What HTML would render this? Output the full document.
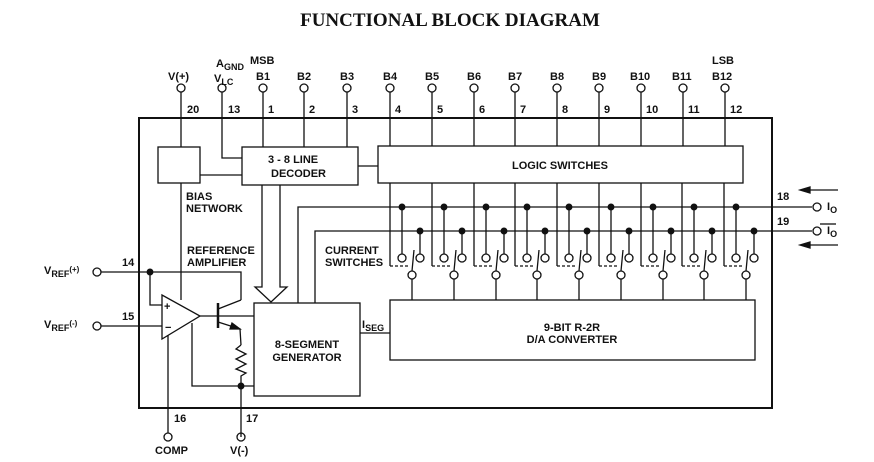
<!DOCTYPE html>
<html><head><meta charset="utf-8"><style>
body{margin:0;background:#fff}
svg{display:block}
text{font-family:"Liberation Sans",sans-serif;font-weight:bold;font-size:11px;fill:#111}
.t{font-family:"Liberation Serif",serif;font-size:19px;font-weight:bold}
</style></head><body>
<svg width="874" height="462" viewBox="0 0 874 462" xmlns="http://www.w3.org/2000/svg" stroke="#111" stroke-width="1.3" fill="none">
<text class="t" x="450" y="26" text-anchor="middle" stroke="none">FUNCTIONAL BLOCK DIAGRAM</text>
<rect x="139" y="118" width="633" height="290" stroke-width="2"/>
<g stroke="none">
<text x="168" y="80">V(+)</text>
<text x="216" y="67">A<tspan font-size="9" dy="3">GND</tspan></text>
<text x="250" y="64">MSB</text>
<text x="214" y="82">V<tspan font-size="9" dy="3">LC</tspan></text>
<text x="256" y="80">B1</text><text x="297" y="80">B2</text><text x="340" y="80">B3</text>
<text x="383" y="80">B4</text><text x="425" y="80">B5</text><text x="467" y="80">B6</text>
<text x="508" y="80">B7</text><text x="550" y="80">B8</text><text x="592" y="80">B9</text>
<text x="630" y="80">B10</text><text x="672" y="80">B11</text>
<text x="712" y="64">LSB</text><text x="712" y="80">B12</text>
<text x="187" y="113">20</text><text x="228" y="113">13</text><text x="268" y="113">1</text>
<text x="309" y="113">2</text><text x="352" y="113">3</text><text x="395" y="113">4</text>
<text x="437" y="113">5</text><text x="479" y="113">6</text><text x="520" y="113">7</text>
<text x="562" y="113">8</text><text x="604" y="113">9</text><text x="646" y="113">10</text>
<text x="688" y="113">11</text><text x="730" y="113">12</text>
<text x="268" y="163">3 - 8 LINE</text><text x="271" y="177">DECODER</text>
<text x="560" y="169" text-anchor="middle">LOGIC SWITCHES</text>
<text x="186" y="200">BIAS</text><text x="186" y="212">NETWORK</text>
<text x="187" y="254">REFERENCE</text><text x="187" y="266">AMPLIFIER</text>
<text x="325" y="254">CURRENT</text><text x="325" y="266">SWITCHES</text>
<text x="572" y="331" text-anchor="middle">9-BIT R-2R</text>
<text x="572" y="343" text-anchor="middle">D/A CONVERTER</text>
<text x="307" y="348" text-anchor="middle">8-SEGMENT</text>
<text x="307" y="361" text-anchor="middle">GENERATOR</text>
<text x="362" y="328">I<tspan font-size="9" dy="3">SEG</tspan></text>
<text x="777" y="200">18</text><text x="777" y="225">19</text>
<text x="827" y="210">I<tspan font-size="9" dy="3">O</tspan></text>
<text x="827" y="234">I<tspan font-size="9" dy="3">O</tspan></text>
<text x="44" y="274">V<tspan font-size="9" dy="3">REF</tspan><tspan font-size="8" dy="-5">(+)</tspan></text>
<text x="44" y="328">V<tspan font-size="9" dy="3">REF</tspan><tspan font-size="8" dy="-5">(-)</tspan></text>
<text x="122" y="266">14</text><text x="122" y="320">15</text>
<text x="174" y="422">16</text><text x="246" y="422">17</text>
<text x="155" y="454">COMP</text><text x="230" y="454">V(-)</text>
</g>
<line x1="820" y1="224" x2="836" y2="224"/>
<g>
<circle cx="181" cy="88" r="4"/><line x1="181" y1="92" x2="181" y2="147"/>
<circle cx="222" cy="88" r="4"/><polyline points="222,92 222,158 242,158"/>
<circle cx="263" cy="88" r="4"/><line x1="263" y1="92" x2="263" y2="147"/>
<circle cx="304" cy="88" r="4"/><line x1="304" y1="92" x2="304" y2="147"/>
<circle cx="347" cy="88" r="4"/><line x1="347" y1="92" x2="347" y2="147"/>
<circle cx="390" cy="88" r="4"/><line x1="390" y1="92" x2="390" y2="146"/>
<circle cx="432" cy="88" r="4"/><line x1="432" y1="92" x2="432" y2="146"/>
<circle cx="474" cy="88" r="4"/><line x1="474" y1="92" x2="474" y2="146"/>
<circle cx="515" cy="88" r="4"/><line x1="515" y1="92" x2="515" y2="146"/>
<circle cx="557" cy="88" r="4"/><line x1="557" y1="92" x2="557" y2="146"/>
<circle cx="599" cy="88" r="4"/><line x1="599" y1="92" x2="599" y2="146"/>
<circle cx="641" cy="88" r="4"/><line x1="641" y1="92" x2="641" y2="146"/>
<circle cx="683" cy="88" r="4"/><line x1="683" y1="92" x2="683" y2="146"/>
<circle cx="725" cy="88" r="4"/><line x1="725" y1="92" x2="725" y2="146"/>
</g>
<rect x="158" y="147" width="42" height="36"/>
<rect x="242" y="147" width="116" height="38"/>
<rect x="378" y="146" width="365" height="37"/>
<line x1="200" y1="175" x2="242" y2="175"/>
<line x1="358" y1="166" x2="378" y2="166"/>
<polyline points="262,185 262,287 255,287 271,302 287,287 280,287 280,185"/>
<polyline points="298,303 298,207 812,207"/>
<polyline points="315,303 315,231 812,231"/>
<circle cx="817" cy="207" r="4"/><circle cx="817" cy="231" r="4"/>
<line x1="802" y1="190" x2="838" y2="190"/><polygon points="800,190 810,187 810,193" fill="#111"/>
<line x1="802" y1="245" x2="838" y2="245"/><polygon points="800,245 810,242 810,248" fill="#111"/>
<g id="sw">
<line x1="390" y1="183" x2="390" y2="266"/>
<line x1="390" y1="266" x2="410" y2="266" stroke-dasharray="3,2"/>
<circle cx="402" cy="207" r="2.8" fill="#111"/><line x1="402" y1="207" x2="402" y2="254"/><circle cx="402" cy="258" r="4"/>
<circle cx="420" cy="231" r="2.8" fill="#111"/><line x1="420" y1="231" x2="420" y2="254"/><circle cx="420" cy="258" r="4"/>
<line x1="412" y1="271" x2="414" y2="250"/>
<circle cx="412" cy="275" r="4"/><line x1="412" y1="279" x2="412" y2="300"/>
</g>
<use href="#sw" x="42"/><use href="#sw" x="84"/><use href="#sw" x="125"/><use href="#sw" x="167"/>
<use href="#sw" x="209"/><use href="#sw" x="251"/><use href="#sw" x="292"/><use href="#sw" x="334"/>
<rect x="390" y="300" width="365" height="60"/>
<rect x="254" y="303" width="106" height="93"/>
<line x1="360" y1="333" x2="390" y2="333"/>
<circle cx="97" cy="272" r="4"/><polyline points="101,272 241,272 241,300"/>
<circle cx="150" cy="272" r="2.8" fill="#111"/><polyline points="150,272 150,305 162,305"/>
<circle cx="97" cy="326" r="4"/><line x1="101" y1="326" x2="162" y2="326"/>
<polygon points="162,295 162,339 200,316"/>
<text x="164" y="310" stroke="none" font-size="9">+</text><text x="165" y="331" stroke="none" font-size="9">−</text>
<line x1="181" y1="183" x2="181" y2="300"/>
<line x1="200" y1="316" x2="254" y2="316"/>
<line x1="218" y1="303" x2="218" y2="328" stroke-width="2.5"/>
<line x1="218" y1="309" x2="241" y2="300"/>
<polyline points="218,322 240,329 241,345"/>
<polygon points="240,329 232,323 230,329" fill="#111"/>
<polyline points="241,345 236,349 246,354 236,359 246,364 236,369 246,373 241,376 241,437"/>
<polyline points="192,323 192,386 254,386"/>
<circle cx="241" cy="386" r="2.8" fill="#111"/>
<line x1="168" y1="335" x2="168" y2="433"/><circle cx="168" cy="437" r="4"/>
<circle cx="241" cy="437" r="4"/>
</svg>
</body></html>
